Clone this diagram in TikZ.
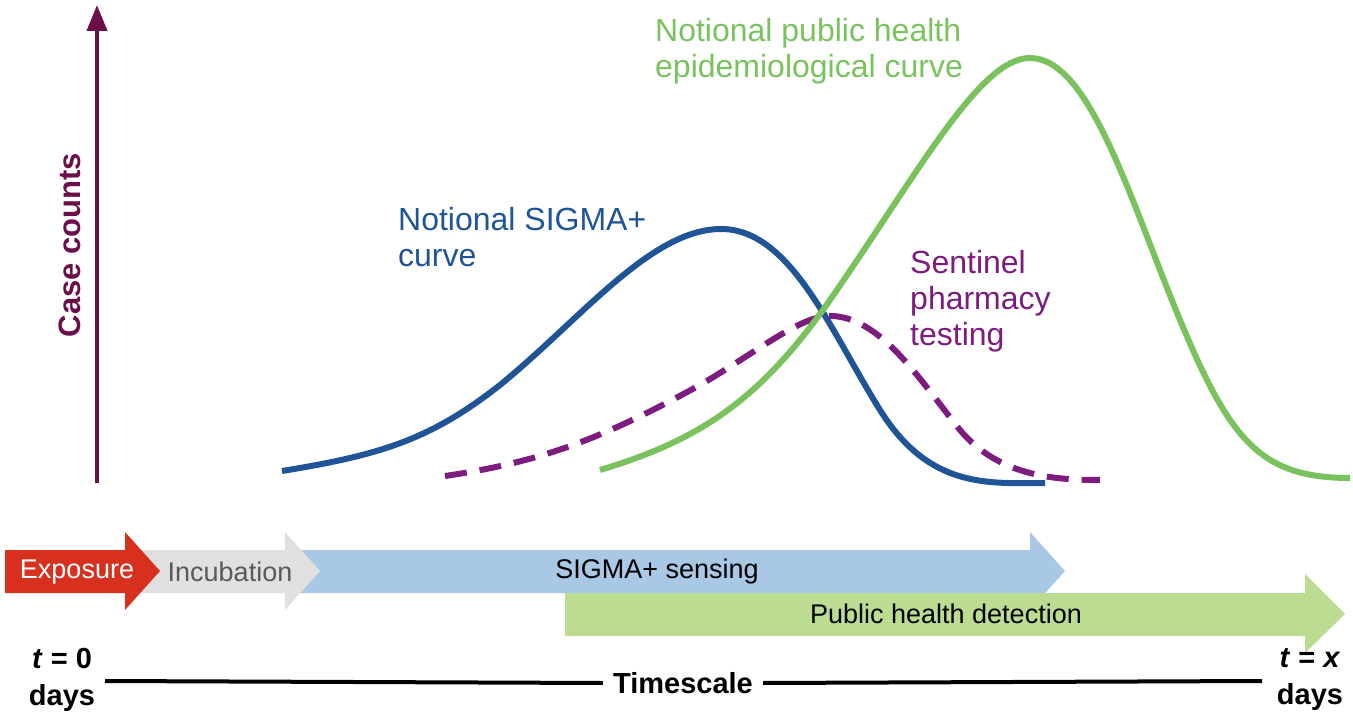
\documentclass[tikz,border=0pt]{standalone}
\usepackage{fontspec}
\setmainfont{Liberation Sans}
\usetikzlibrary{arrows.meta}
\definecolor{axpur}{HTML}{6B0F4A}
\definecolor{cblue}{HTML}{1F5596}
\definecolor{cpur}{HTML}{7B1C7E}
\definecolor{cgreen}{HTML}{79C25D}
\definecolor{ared}{HTML}{D7301F}
\definecolor{agray}{HTML}{E0E0E0}
\definecolor{ablue}{HTML}{A9C8E6}
\definecolor{agreen}{HTML}{BCDC92}
\begin{document}
\begin{tikzpicture}[x=1pt,y=-1pt,
  curve/.style={line width=6pt},
  lbl/.style={font=\fontsize{32}{36}\selectfont,align=left,anchor=north west,inner sep=0pt},
  arrtxt/.style={font=\fontsize{27}{30}\selectfont,inner sep=0pt},
  tlbl/.style={font=\fontsize{29}{37}\selectfont\bfseries,align=center,inner sep=0pt}]
\useasboundingbox (0,0) rectangle (1353,719);
% axis
\coordinate (a0) at (97,483); \coordinate (a1) at (97,5);
\draw[axpur,line width=4pt,-{Triangle[length=26pt,width=20pt]}] (a0) -- (a1);
\node[rotate=90,font=\fontsize{31}{34}\selectfont\bfseries,text=axpur] (cc) at (70,245) {Case counts};
% curves
\draw[curve,cblue] (282,471) .. controls (380,455) and (430,440) .. (500,385)
  .. controls (580,320) and (650,230) .. (720,229)
  .. controls (790,228) and (830,330) .. (880,410)
  .. controls (930,490) and (990,483) .. (1045,483);
\draw[curve,cpur,dash pattern=on 22pt off 13pt] (445,476) .. controls (540,462) and (600,440) .. (700,385)
  .. controls (760,350) and (800,316) .. (830,316)
  .. controls (880,316) and (920,380) .. (960,430)
  .. controls (1000,478) and (1060,480) .. (1100,480);
\draw[curve,cgreen] (600,470) .. controls (700,440) and (760,400) .. (830,300)
  .. controls (920,170) and (980,58) .. (1030,58)
  .. controls (1090,58) and (1130,200) .. (1180,320)
  .. controls (1230,440) and (1260,478) .. (1350,478);
% labels
\node[lbl,text=cgreen] (lg) at (655,18) {Notional public health\\epidemiological curve};
\node[lbl,text=cblue] (lb) at (398,207) {Notional SIGMA+\\curve};
\node[lbl,text=cpur] (lp) at (910,250) {Sentinel\\pharmacy\\testing};
% timeline arrows
\fill[ablue] (290,550) -- (1030,550) -- (1030,532) -- (1065,571) -- (1030,610) -- (1030,593) -- (290,593) -- cycle;
\fill[agray] (140,550) -- (285,550) -- (285,532) -- (320,571) -- (285,610) -- (285,593) -- (140,593) -- cycle;
\fill[ared] (5,550) -- (125,550) -- (125,532) -- (160,571) -- (125,610) -- (125,593) -- (5,593) -- cycle;
\fill[agreen] (565,593) -- (1305,593) -- (1305,574) -- (1345,614) -- (1305,653) -- (1305,636) -- (565,636) -- cycle;
\node[arrtxt,text=white] (ex) at (77,572) {Exposure};
\node[arrtxt,text=black!65] (inc) at (230,572) {Incubation};
\node[arrtxt] (sig) at (657,572) {SIGMA+ sensing};
\node[arrtxt] (ph) at (946,614) {Public health detection};
% timescale
\node[tlbl,inner xsep=10pt] (ts) at (683,683) {Timescale};
\node[tlbl] (t0) at (62,680) {\textit{t} = 0\\days};
\node[tlbl] (tx) at (1310,680) {\textit{t} = \textit{x}\\days};
\coordinate (l0) at (105,681); \coordinate (l1) at (1262,681);
\draw[line width=4pt] (l0) -- (ts.west);
\draw[line width=4pt] (ts.east) -- (l1);
\end{tikzpicture}
\end{document}
